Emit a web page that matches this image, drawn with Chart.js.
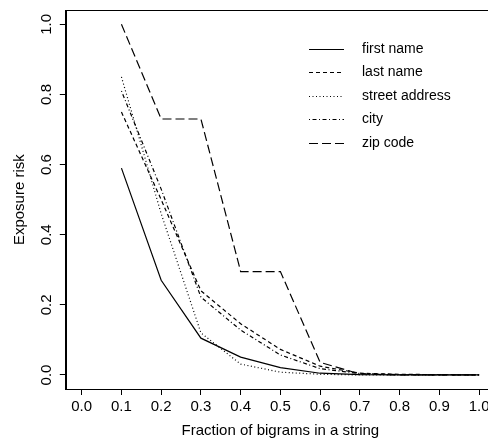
<!DOCTYPE html>
<html>
<head>
<meta charset="utf-8">
<script src="https://cdn.jsdelivr.net/npm/chart.js@4"></script>
<style>
  html, body { margin: 0; padding: 0; background: #fff; overflow: hidden; }
  canvas { display: block; }
</style>
</head>
<body>
<canvas id="riskChart" width="510" height="441"></canvas>
<script>
// fraction of bigrams (x) and exposure risk per attribute
const fractions = [0.1, 0.2, 0.3, 0.4, 0.5, 0.6, 0.7, 0.8, 0.9, 1.0];
const firstName = [0.59, 0.27, 0.105, 0.051, 0.021, 0.005, 0.001, 0, 0, 0];
const lastName = [0.75, 0.50, 0.24, 0.146, 0.073, 0.025, 0.005, 0.002, 0.001, 0];
const streetAddress = [0.85, 0.46, 0.12, 0.031, 0.008, 0.002, 0, 0, 0, 0];
const city = [0.81, 0.53, 0.222, 0.128, 0.057, 0.018, 0.004, 0.001, 0, 0];
const zipCode = [1.0, 0.73, 0.73, 0.295, 0.295, 0.036, 0.003, 0, 0, 0];

const seriesLabels = ['first name', 'last name', 'street address', 'city', 'zip code'];
const xTicks = [0, 0.1, 0.2, 0.3, 0.4, 0.5, 0.6, 0.7, 0.8, 0.9, 1.0];
const yTicks = [0, 0.2, 0.4, 0.6, 0.8, 1.0];

const FONT = '"Liberation Sans", Arial, Helvetica, sans-serif';

const toPoints = ys => ys.map((y, i) => ({ x: fractions[i], y: y }));

const dashes = [[], [4, 3], [1, 2.5], [1, 2.5, 4, 2.5], [9, 4]];
const allSeries = [firstName, lastName, streetAddress, city, zipCode];

const datasets = allSeries.map((ys, i) => ({
  label: seriesLabels[i],
  data: toPoints(ys),
  borderColor: '#000',
  borderWidth: 1.2,
  borderDash: dashes[i],
  pointRadius: 0,
  tension: 0,
  fill: false
}));

// box around the plot region (R style frame)
const frame = {
  id: 'frame',
  afterDraw(chart) {
    const a = chart.chartArea;
    const ctx = chart.ctx;
    ctx.save();
    ctx.strokeStyle = '#000';
    ctx.lineWidth = 1;
    ctx.strokeRect(Math.round(a.left) + 0.5, Math.round(a.top) + 0.5,
      Math.round(a.right - a.left), Math.round(a.bottom - a.top));
    ctx.restore();
  }
};

// legend drawn inside the plot, no box
const insideLegend = {
  id: 'insideLegend',
  afterDatasetsDraw(chart) {
    const ctx = chart.ctx;
    ctx.save();
    ctx.font = '14px ' + FONT;
    ctx.textBaseline = 'middle';
    ctx.textAlign = 'left';
    chart.data.datasets.forEach((ds, i) => {
      const y = Math.round(48.5 + i * 23.6) + 0.5;
      ctx.strokeStyle = '#000';
      ctx.lineWidth = 1;
      ctx.setLineDash(ds.borderDash);
      ctx.beginPath();
      ctx.moveTo(309, y);
      ctx.lineTo(344, y);
      ctx.stroke();
      ctx.setLineDash([]);
      ctx.fillStyle = '#000';
      ctx.fillText(ds.label, 362, y);
    });
    ctx.restore();
  }
};

new Chart(document.getElementById('riskChart'), {
  type: 'line',
  data: { datasets: datasets },
  options: {
    responsive: false,
    animation: false,
    devicePixelRatio: 1,
    layout: { padding: { top: 10.3, right: 15, left: 0, bottom: 0 } },
    plugins: {
      legend: { display: false },
      tooltip: { enabled: false }
    },
    scales: {
      x: {
        type: 'linear',
        min: -0.04,
        max: 1.04,
        afterBuildTicks: s => { s.ticks = xTicks.map(v => ({ value: v })); },
        afterFit: s => {
          s.height = 52;
          s.paddingLeft = 0; s.paddingRight = 0;
        },
        grid: { display: true, drawOnChartArea: false, drawTicks: true, tickLength: 6, color: '#000' },
        border: { display: true, color: '#000', width: 1 },
        ticks: {
          color: '#000',
          padding: 3,
          maxRotation: 0,
          font: { family: FONT, size: 15 },
          callback: v => v.toFixed(1)
        },
        title: {
          display: true,
          text: 'Fraction of bigrams in a string',
          color: '#000',
          font: { family: FONT, size: 15 },
          padding: { top: 0, bottom: 1 }
        }
      },
      y: {
        type: 'linear',
        min: -0.04,
        max: 1.04,
        afterBuildTicks: s => { s.ticks = yTicks.map(v => ({ value: v })); },
        afterFit: s => {
          s.width = 65.8;
          s.paddingTop = 0; s.paddingBottom = 0;
        },
        grid: { display: true, drawOnChartArea: false, drawTicks: true, tickLength: 6, color: '#000' },
        border: { display: true, color: '#000', width: 1 },
        ticks: {
          color: '#000',
          padding: 3,
          minRotation: 90,
          maxRotation: 90,
          crossAlign: 'center',
          font: { family: FONT, size: 15 },
          callback: v => v.toFixed(1)
        },
        title: {
          display: true,
          text: 'Exposure risk',
          color: '#000',
          font: { family: FONT, size: 15 },
          padding: { top: 11, bottom: 0 }
        }
      }
    }
  },
  plugins: [frame, insideLegend]
});
</script>
</body>
</html>
